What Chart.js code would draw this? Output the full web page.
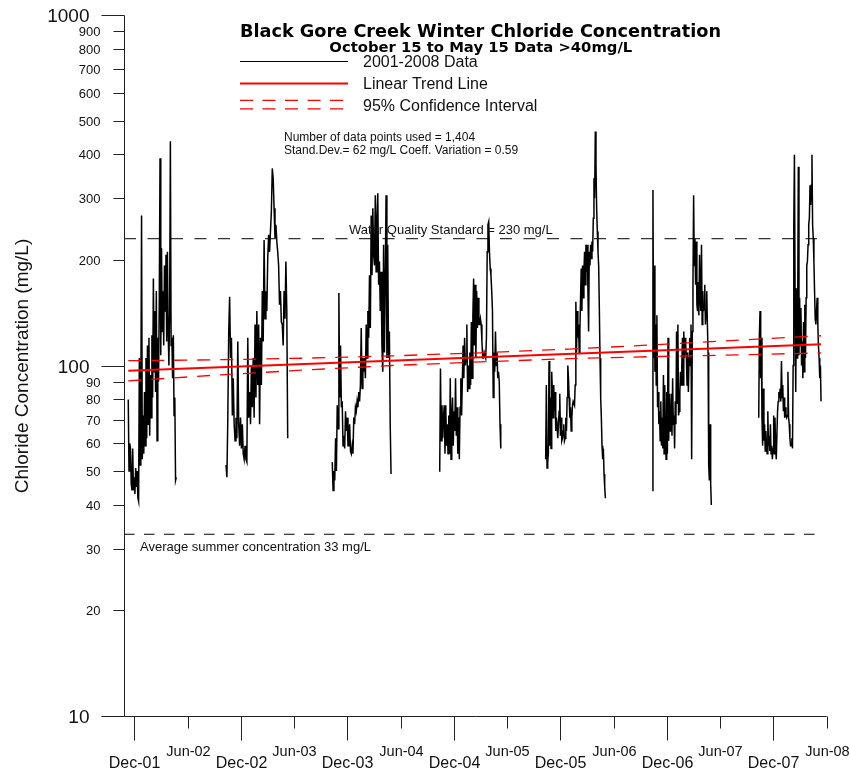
<!DOCTYPE html>
<html>
<head>
<meta charset="utf-8">
<script src="https://cdn.jsdelivr.net/npm/chart.js@4.4.1/dist/chart.umd.min.js"></script>
<style>
  html, body { margin: 0; padding: 0; background: #fff; }
  canvas { display: block; }
</style>
</head>
<body>
<canvas id="chloride" width="850" height="775"></canvas>
<script>
// time axis is in months since Jan 2001 (Dec-01 = 11, Jun-08 = 89)
const seasonStart = [10.32, 21.33, 33.30, 45.32, 57.34, 69.35, 81.34];
const seasonEnd = [15.73, 28.28, 39.92, 52.28, 64.14, 76.00, 88.36];

// chloride readings, mg/L
const winter0102 = [80, 50, 60, 58, 46, 44, 58, 44, 48, 43, 51, 45, 50, 42, 41, 105, 52, 72, 268, 54, 72, 56, 84, 59, 105, 62, 114, 68, 120, 63, 94, 71, 122, 81, 177, 96, 143, 84, 163, 61, 120, 90, 156, 390, 107, 216, 125, 163, 114, 193, 143, 207, 117, 211, 125, 100, 143, 436, 114, 120, 92, 122, 72, 81, 47, 48];
const winter0203 = [52, 48, 71, 125, 157, 105, 120, 72, 92, 68, 61, 71, 62, 117, 68, 59, 71, 58, 68, 56, 54, 59, 54, 53, 120, 71, 84, 68, 100, 76, 105, 71, 131, 81, 143, 88, 131, 68, 120, 88, 163, 117, 228, 136, 163, 143, 202, 236, 211, 241, 275, 365, 342, 281, 231, 252, 226, 211, 193, 149, 163, 133, 131, 114, 163, 136, 198, 143, 62];
const winter0304 = [53, 44, 50, 47, 62, 50, 77, 66, 161, 81, 114, 76, 79, 59, 63, 58, 74, 65, 71, 59, 59, 68, 57, 56, 59, 56, 71, 68, 76, 74, 79, 76, 84, 79, 88, 128, 86, 105, 96, 105, 92, 131, 105, 143, 120, 181, 128, 268, 181, 281, 207, 193, 306, 185, 263, 310, 170, 198, 143, 185, 114, 96, 221, 109, 177, 306, 105, 221, 105, 125, 68, 49];
const winter0405 = [50, 50, 98, 61, 77, 62, 71, 77, 56, 77, 59, 68, 56, 72, 56, 92, 54, 71, 81, 59, 74, 65, 92, 63, 76, 56, 71, 54, 76, 92, 72, 90, 114, 92, 120, 100, 105, 131, 84, 100, 86, 109, 88, 133, 92, 139, 177, 114, 170, 105, 163, 128, 156, 131, 131, 136, 131, 117, 105, 105, 109, 107, 105, 120, 211, 252, 257, 211, 189, 181, 163, 143, 81, 109, 96, 125, 100, 109, 92, 96, 90, 68, 58];
const winter0506 = [54, 88, 51, 53, 56, 103, 59, 81, 58, 96, 84, 71, 88, 74, 84, 65, 71, 68, 62, 67, 74, 83, 63, 71, 61, 62, 65, 68, 61, 62, 71, 65, 81, 100, 92, 81, 71, 76, 65, 71, 77, 79, 78, 77, 88, 152, 109, 143, 120, 131, 109, 125, 156, 189, 143, 193, 156, 185, 211, 170, 221, 185, 221, 163, 125, 211, 193, 221, 202, 226, 211, 263, 342, 300, 465, 374, 281, 241, 211, 193, 146, 105, 81, 71, 59, 54, 58, 49, 45, 42, 42];
const winter0607 = [44, 317, 105, 193, 96, 131, 88, 139, 76, 84, 68, 74, 61, 79, 59, 71, 58, 94, 56, 88, 65, 54, 84, 56, 120, 61, 83, 65, 68, 83, 63, 92, 68, 72, 58, 79, 68, 125, 78, 131, 72, 74, 84, 96, 88, 100, 120, 88, 125, 105, 120, 114, 105, 88, 109, 84, 105, 120, 100, 131, 54, 125, 170, 306, 193, 230, 170, 226, 149, 143, 173, 139, 207, 156, 143, 221, 131, 163, 143, 149, 170, 131, 143, 163, 131, 109, 52, 47, 68, 46, 40];
const winter0708 = [71, 122, 143, 92, 120, 71, 59, 86, 61, 68, 57, 65, 59, 56, 74, 59, 63, 57, 68, 56, 59, 54, 58, 72, 56, 71, 59, 54, 54, 74, 79, 84, 81, 86, 79, 103, 81, 88, 74, 81, 71, 76, 72, 71, 72, 96, 71, 68, 62, 59, 59, 62, 58, 100, 252, 399, 163, 84, 166, 105, 143, 369, 107, 156, 114, 146, 100, 117, 92, 133, 96, 149, 105, 156, 193, 198, 221, 252, 263, 327, 287, 327, 399, 252, 231, 198, 163, 136, 131, 143, 156, 131, 114, 105, 92, 100, 79];
const seasons = [winter0102, winter0203, winter0304, winter0405, winter0506, winter0607, winter0708];

// linear trend and 95% confidence band
const trendMonths = [10.32, 88.36];
const trendValues = [96.6, 114.9];
const ciMonths = [10.32, 20, 30, 40, 50, 60, 70, 80, 88.36];
const ciUpper = [103.2, 103.8, 104.9, 106.5, 108.7, 111.4, 114.7, 118.4, 121.6];
const ciLower = [90.4, 93.8, 97.0, 100.0, 102.4, 104.6, 106.1, 107.4, 108.6];

// reference levels
const standardValue = 230;
const summerValue = 33;
const refMonths = [9.84, 87.9];

// axis ticks
const yMajorTicks = [10, 100, 1000];
const yMinorTicks = [20, 30, 40, 50, 60, 70, 80, 90, 200, 300, 400, 500, 600, 700, 800, 900];
const xTickMonths = [11, 17, 23, 29, 35, 41, 47, 53, 59, 65, 71, 77, 83, 89];
const xTickLabels = ['Dec-01', 'Jun-02', 'Dec-02', 'Jun-03', 'Dec-03', 'Jun-04', 'Dec-04', 'Jun-05', 'Dec-05', 'Jun-06', 'Dec-06', 'Jun-07', 'Dec-07', 'Jun-08'];

const SANS = '"Liberation Sans", Arial, Helvetica, sans-serif';
const TITLE_FONT = '"DejaVu Sans", Verdana, sans-serif';

document.addEventListener('DOMContentLoaded', () => {
    const canvas = document.querySelector('#chloride');

    // build the data series, with a null between seasons so the line breaks
    const dataPoints = [];
    seasons.forEach((values, s) => {
        const step = (seasonEnd[s] - seasonStart[s]) / (values.length - 1);
        values.forEach((v, i) => {
            dataPoints.push({ x: seasonStart[s] + i * step, y: v });
        });
        if (s < seasons.length - 1) {
            dataPoints.push({ x: (seasonEnd[s] + seasonStart[s + 1]) / 2, y: null });
        }
    });

    const pairs = (xs, ys) => xs.map((x, i) => ({ x: x, y: ys[i] }));

    // axes, labels, title and legend drawn over the plot
    const decorations = {
        id: 'decorations',
        afterDraw(chart) {
            const ctx = chart.ctx;
            const xs = chart.scales.x;
            const ys = chart.scales.y;
            const left = Math.round(chart.chartArea.left) + 0.5;
            const base = Math.round(ys.getPixelForValue(10)) + 0.5;
            const right = xs.getPixelForValue(89);

            ctx.save();
            ctx.strokeStyle = '#222';
            ctx.fillStyle = '#111';
            ctx.lineWidth = 1;

            // y axis
            ctx.beginPath();
            ctx.moveTo(left, Math.round(ys.getPixelForValue(1000)) + 0.5);
            ctx.lineTo(left, base);
            ctx.stroke();

            ctx.textAlign = 'right';
            ctx.textBaseline = 'middle';
            yMajorTicks.forEach(t => {
                const py = Math.round(ys.getPixelForValue(t)) + 0.5;
                ctx.beginPath();
                ctx.moveTo(left - 23, py);
                ctx.lineTo(left, py);
                ctx.stroke();
                ctx.font = '19px ' + SANS;
                ctx.fillText(String(t), left - 35, py + 1);
            });
            yMinorTicks.forEach(t => {
                const py = Math.round(ys.getPixelForValue(t)) + 0.5;
                ctx.beginPath();
                ctx.moveTo(left - 11, py);
                ctx.lineTo(left, py);
                ctx.stroke();
                ctx.font = '13px ' + SANS;
                ctx.fillText(String(t), left - 24, py + 1);
            });

            // x axis
            ctx.beginPath();
            ctx.moveTo(left, base);
            ctx.lineTo(right, base);
            ctx.stroke();
            ctx.textAlign = 'center';
            ctx.textBaseline = 'alphabetic';
            xTickMonths.forEach((m, i) => {
                const px = Math.round(xs.getPixelForValue(m)) + 0.5;
                const isDec = xTickLabels[i].startsWith('Dec');
                ctx.beginPath();
                ctx.moveTo(px, base);
                ctx.lineTo(px, base + (isDec ? 24 : 12));
                ctx.stroke();
                if (isDec) {
                    ctx.font = '16px ' + SANS;
                    ctx.fillText(xTickLabels[i], px, base + 51);
                } else {
                    ctx.font = '14.5px ' + SANS;
                    ctx.fillText(xTickLabels[i], px, base + 39);
                }
            });

            // y axis title
            ctx.save();
            ctx.translate(27.5, 366);
            ctx.rotate(-Math.PI / 2);
            ctx.font = '19px ' + SANS;
            ctx.textAlign = 'center';
            ctx.fillText('Chloride Concentration (mg/L)', 0, 0);
            ctx.restore();

            // title
            ctx.fillStyle = '#000';
            ctx.textAlign = 'center';
            ctx.font = 'bold 17.7px ' + TITLE_FONT;
            ctx.fillText('Black Gore Creek Winter Chloride Concentration', 480.5, 37.3);
            ctx.font = 'bold 14.8px ' + TITLE_FONT;
            ctx.fillText('October 15 to May 15 Data >40mg/L', 480.8, 52.3);

            // legend
            ctx.lineWidth = 1.2;
            ctx.strokeStyle = '#000';
            ctx.beginPath();
            ctx.moveTo(240, 61.5);
            ctx.lineTo(348, 61.5);
            ctx.stroke();
            ctx.strokeStyle = '#ff0000';
            ctx.lineWidth = 2;
            ctx.beginPath();
            ctx.moveTo(240, 83.5);
            ctx.lineTo(348, 83.5);
            ctx.stroke();
            ctx.lineWidth = 1.3;
            ctx.setLineDash([13, 9.5]);
            [100.3, 108.8].forEach(ly => {
                ctx.beginPath();
                ctx.moveTo(240, ly);
                ctx.lineTo(346, ly);
                ctx.stroke();
            });
            ctx.setLineDash([]);

            ctx.textAlign = 'left';
            ctx.fillStyle = '#111';
            ctx.font = '16px ' + SANS;
            ctx.fillText('2001-2008 Data', 363, 67.3);
            ctx.fillText('Linear Trend Line', 363, 89.3);
            ctx.fillText('95% Confidence Interval', 363, 110.7);

            ctx.font = '12px ' + SANS;
            ctx.fillText('Number of data points used = 1,404', 284, 141.2);
            ctx.fillText('Stand.Dev.= 62 mg/L Coeff. Variation = 0.59', 284, 154);

            // reference line labels
            ctx.font = '13px ' + SANS;
            ctx.fillText('Water Quality Standard = 230 mg/L', 349, ys.getPixelForValue(standardValue) - 5);
            ctx.fillText('Average summer concentration 33 mg/L', 140, ys.getPixelForValue(summerValue) + 17);

            ctx.restore();
        }
    };

    new Chart(canvas, {
        type: 'line',
        data: {
            datasets: [
                {
                    label: 'Linear Trend Line',
                    data: pairs(trendMonths, trendValues),
                    borderColor: '#ff0000',
                    borderWidth: 2,
                    order: 0
                },
                {
                    label: '95% Confidence Interval',
                    data: pairs(ciMonths, ciUpper),
                    borderColor: '#ff0000',
                    borderWidth: 1.3,
                    borderDash: [13, 10],
                    order: 1
                },
                {
                    label: '95% Confidence Interval (lower)',
                    data: pairs(ciMonths, ciLower),
                    borderColor: '#ff0000',
                    borderWidth: 1.3,
                    borderDash: [13, 10],
                    order: 1
                },
                {
                    label: '2001-2008 Data',
                    data: dataPoints,
                    borderColor: '#000',
                    borderWidth: 1.5,
                    spanGaps: false,
                    order: 2
                },
                {
                    label: 'Water Quality Standard',
                    data: refMonths.map(m => ({ x: m, y: standardValue })),
                    borderColor: '#000',
                    borderWidth: 1,
                    borderDash: [12, 11.5],
                    order: 3
                },
                {
                    label: 'Average summer concentration',
                    data: refMonths.map(m => ({ x: m, y: summerValue })),
                    borderColor: '#000',
                    borderWidth: 1,
                    borderDash: [10.5, 9.5],
                    order: 3
                }
            ]
        },
        options: {
            responsive: false,
            animation: false,
            devicePixelRatio: 1,
            layout: { padding: { left: 124, right: 23, top: 15, bottom: 59 } },
            elements: {
                point: { radius: 0, hoverRadius: 0 },
                line: { tension: 0, fill: false }
            },
            scales: {
                x: { type: 'linear', min: 9.84, max: 89.03, display: false },
                y: { type: 'logarithmic', min: 10, max: 1000, display: false }
            },
            plugins: {
                legend: { display: false },
                tooltip: { enabled: false }
            }
        },
        plugins: [decorations]
    });
});
</script>
</body>
</html>
